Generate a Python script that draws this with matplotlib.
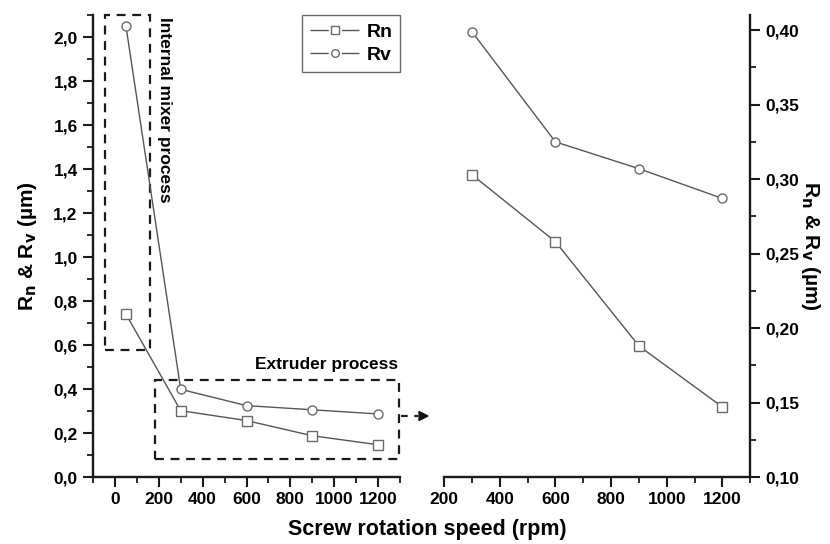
import matplotlib
matplotlib.use('Agg')
import matplotlib.pyplot as plt
from matplotlib.lines import Line2D
from matplotlib.legend_handler import HandlerTuple
from matplotlib.patches import Rectangle
from matplotlib.ticker import FuncFormatter, MultipleLocator

plt.rcParams['font.family'] = ['Liberation Sans', 'DejaVu Sans']
plt.rcParams['font.weight'] = 'bold'
plt.rcParams['mathtext.default'] = 'bf'

# data
speed_all = [50, 300, 600, 900, 1200]
rn_all = [0.742, 0.302, 0.257, 0.188, 0.147]
rv_all = [2.053, 0.399, 0.325, 0.306, 0.287]

speed_ext = [300, 600, 900, 1200]
rn_ext = [0.303, 0.258, 0.188, 0.147]
rv_ext = [0.399, 0.325, 0.307, 0.287]

LINE = '#555555'
EDGE = '#6a6a6a'
INK = '#1a1a1a'

fig = plt.figure(figsize=(8.3, 5.44), dpi=100)
ax1 = fig.add_axes([0.112, 0.123, 0.370, 0.849])
ax2 = fig.add_axes([0.535, 0.123, 0.369, 0.849])

style = dict(color=LINE, lw=1.0, markersize=6.5, markerfacecolor='white',
             markeredgecolor=EDGE, markeredgewidth=1.0)

ax1.plot(speed_all, rn_all, marker='s', **style)
ax1.plot(speed_all, rv_all, marker='o', **style)
ax2.plot(speed_ext, rn_ext, marker='s', **style)
ax2.plot(speed_ext, rv_ext, marker='o', **style)

ylab = 'R$_n$ & R$_v$ (µm)'

# left panel
ax1.set_xlim(-100, 1300)
ax1.set_ylim(0, 2.1)
ax1.xaxis.set_major_locator(MultipleLocator(200))
ax1.xaxis.set_minor_locator(MultipleLocator(100))
ax1.yaxis.set_major_locator(MultipleLocator(0.2))
ax1.yaxis.set_minor_locator(MultipleLocator(0.1))
ax1.yaxis.set_major_formatter(FuncFormatter(lambda v, p: f'{v:.1f}'.replace('.', ',')))
ax1.spines['top'].set_visible(False)
ax1.spines['right'].set_visible(False)
ax1.set_ylabel(ylab, fontsize=15, fontweight='bold', va='center')
ax1.yaxis.set_label_coords(-0.212, 0.5)

# right panel
ax2.set_xlim(200, 1300)
ax2.set_ylim(0.10, 0.41)
ax2.xaxis.set_major_locator(MultipleLocator(200))
ax2.xaxis.set_minor_locator(MultipleLocator(100))
ax2.yaxis.set_major_locator(MultipleLocator(0.05))
ax2.yaxis.set_minor_locator(MultipleLocator(0.025))
ax2.yaxis.set_major_formatter(FuncFormatter(lambda v, p: f'{v:.2f}'.replace('.', ',')))
ax2.yaxis.tick_right()
ax2.yaxis.set_label_position('right')
ax2.spines['top'].set_visible(False)
ax2.spines['left'].set_visible(False)
ax2.set_ylabel(ylab, fontsize=15, fontweight='bold', rotation=270, va='center')
ax2.yaxis.set_label_coords(1.196, 0.5)

for ax in (ax1, ax2):
    for s in ax.spines.values():
        s.set_linewidth(1.7)
        s.set_color(INK)
    ax.tick_params(which='major', length=7, width=1.5, labelsize=12.5, color=INK, pad=4)
    ax.tick_params(which='minor', length=4, width=1.3, color=INK)
    for lbl in ax.get_xticklabels() + ax.get_yticklabels():
        lbl.set_fontweight('bold')

fig.text(0.515, 0.008, 'Screw rotation speed (rpm)', ha='center', va='bottom',
         fontsize=15.5, fontweight='bold')

# annotation boxes
ax1.add_patch(Rectangle((-45, 0.58), 205, 1.52, fill=False, ls=(0, (4, 3)),
                        lw=1.6, ec=INK, clip_on=False))
ax1.add_patch(Rectangle((182, 0.083), 1111, 0.36, fill=False, ls=(0, (4, 3)),
                        lw=1.6, ec=INK, clip_on=False))
ax1.text(224, 2.09, 'Internal mixer process', rotation=270, ha='center', va='top',
         fontsize=12.5, fontweight='bold')
ax1.text(1290, 0.51, 'Extruder process', ha='right', va='center',
         fontsize=12.5, fontweight='bold')
fig.add_artist(Line2D([401 / 830, 418 / 830], [1 - 416 / 544] * 2,
                      ls=(0, (3, 3)), lw=1.6, color=INK))
fig.add_artist(plt.Polygon([[419 / 830, 1 - 411.5 / 544], [428 / 830, 1 - 416 / 544],
                            [419 / 830, 1 - 420.5 / 544]], closed=True, color='#111111'))

# legend: line with a gap around a small open marker
def leg_handle(marker):
    seg = Line2D([], [], color=LINE, lw=1.0, dashes=(13.2, 9.5))
    mk = Line2D([], [], ls='none', marker=marker, markersize=5.5, markerfacecolor='white',
                markeredgecolor=EDGE, markeredgewidth=1.0)
    return (seg, mk)

leg = ax1.legend([leg_handle('s'), leg_handle('o')], ['Rn', 'Rv'],
                 handler_map={tuple: HandlerTuple(ndivide=1)},
                 loc='upper right', bbox_to_anchor=(1.0, 1.0), borderaxespad=0,
                 fontsize=14, frameon=True, fancybox=False, edgecolor='#444444',
                 handlelength=2.55, borderpad=0.4, labelspacing=0.3, handletextpad=0.35)
leg.get_frame().set_linewidth(1.0)
for t in leg.get_texts():
    t.set_fontweight('bold')

fig.savefig('out.png', dpi=100)
